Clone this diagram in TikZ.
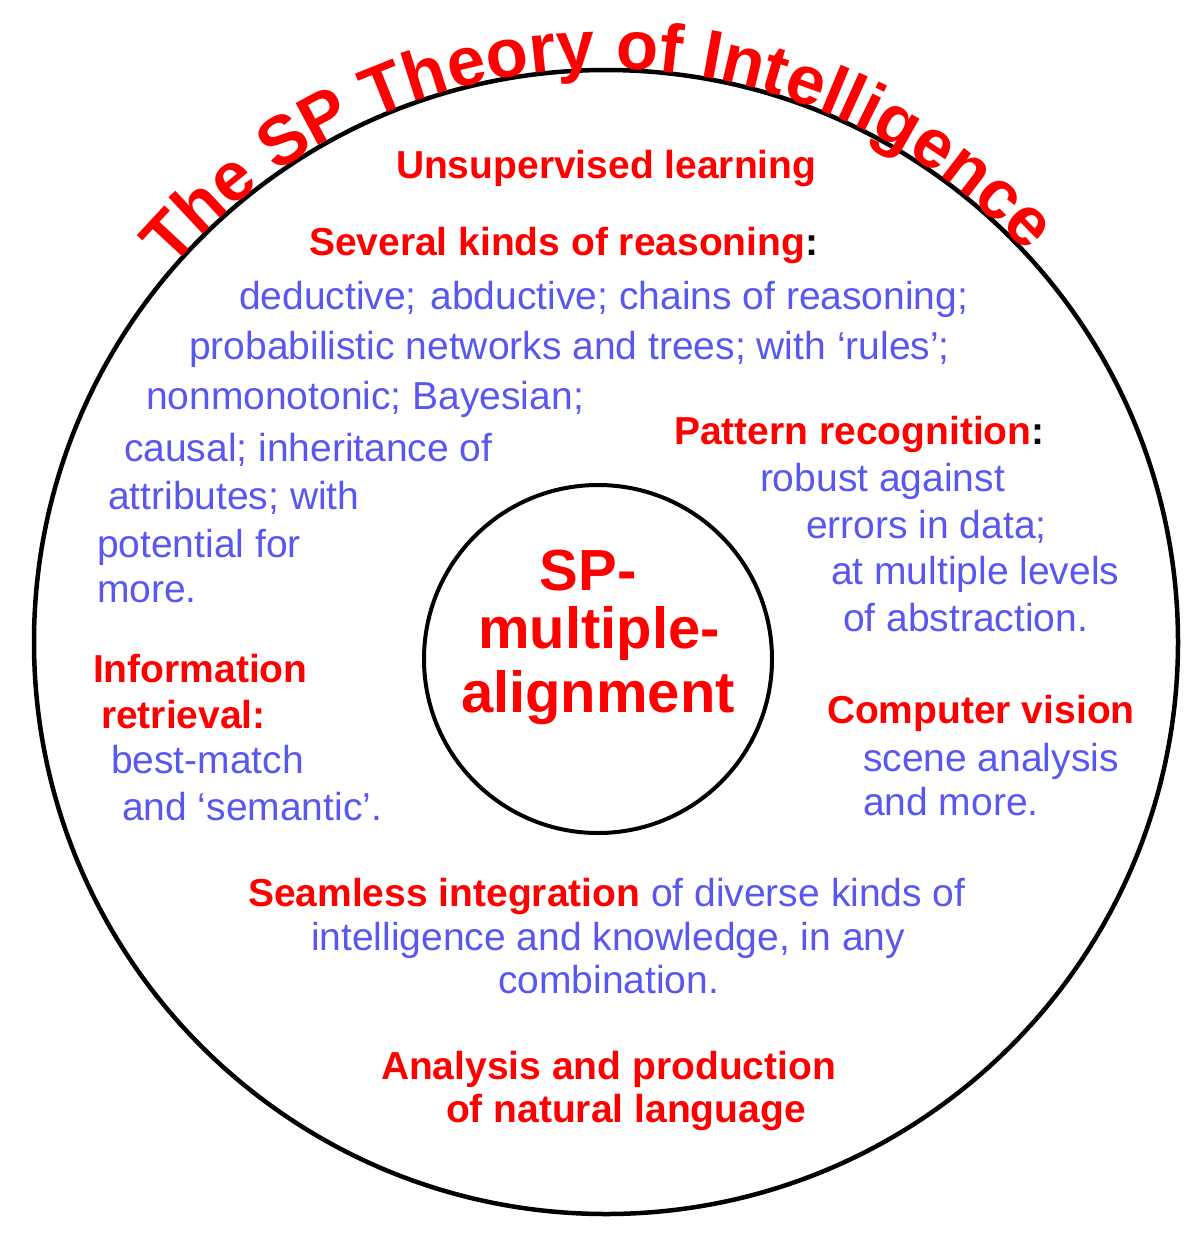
\documentclass[tikz,border=0pt]{standalone}
\usepackage{fontspec}
\setmainfont{Liberation Sans}
\usetikzlibrary{decorations.text}
\definecolor{bluetext}{RGB}{88,88,240}
\definecolor{redtext}{RGB}{255,0,0}
\begin{document}
\begin{tikzpicture}[x=1pt,y=-1pt,
  lbl/.style={anchor=base west, inner sep=0pt, outer sep=0pt},
  head/.style={lbl, text=redtext, font=\fontsize{39}{47}\selectfont\bfseries},
  body/.style={lbl, text=bluetext, font=\fontsize{39}{47}\selectfont},
  coretxt/.style={anchor=base, inner sep=0pt, outer sep=0pt, text=redtext, font=\fontsize{58}{62}\selectfont\bfseries},
  ring/.style={circle, draw=black, inner sep=0pt, outer sep=0pt}]
\fill[white] (0,0) rectangle (1200,1251);
\path[use as bounding box] (0,0) rectangle (1200,1251);
% circles
\node[ring, line width=4.5pt, minimum size=1144pt] (outer) at (606,642) {};
\node[ring, line width=4pt, minimum size=348pt] (core) at (598,659) {};
% title along arc
\path[decorate, decoration={text along path, text align=center, text color=redtext,
  text={|\fontsize{69}{69}\selectfont\bfseries|The SP Theory of Intelligence}}]
  ([shift={(606,642)}]178:573) arc[start angle=178, end angle=360, radius=573];
% centre
\node[coretxt] (core1) at (588,590) {SP-};
\node[coretxt] (core2) at (599,648) {multiple-};
\node[coretxt] (core3) at (598,712) {alignment};
% top
\node[head] (u1) at (396,178) {Unsupervised learning};
\node[head] (r1) at (309,255) {Several kinds of reasoning\textcolor{black}{:}};
\node[body] (b1) at (239,309) {deductive;\hspace{3pt} abductive; chains of reasoning;};
\node[body] (b2) at (189,359) {probabilistic networks and trees; with ‘rules’;};
\node[body] (b3) at (146,409) {nonmonotonic; Bayesian;};
\node[body] (b4) at (124,461) {causal; inheritance of};
\node[body] (b5) at (108,509) {attributes; with};
\node[body] (b6) at (97,557) {potential for};
\node[body] (b7) at (97,602) {more.};
% pattern recognition
\node[head] (p0) at (674,444) {Pattern recognition\textcolor{black}{:}};
\node[body] (p1) at (760,491) {robust against};
\node[body] (p2) at (806,538) {errors in data;};
\node[body] (p3) at (831,584) {at multiple levels};
\node[body] (p4) at (843,631) {of abstraction.};
% computer vision
\node[head] (c0) at (827,723) {Computer vision};
\node[body] (c1) at (863,771) {scene analysis};
\node[body] (c2) at (863,815) {and more.};
% information retrieval
\node[head] (i0) at (93,682) {Information};
\node[head] (i1) at (101,728) {retrieval:};
\node[body] (i2) at (111,773) {best-match};
\node[body] (i3) at (122,820) {and ‘semantic’.};
% seamless integration
\node[body] (s0) at (248,906) {\textcolor{redtext}{\bfseries Seamless integration} of diverse kinds of};
\node[body] (s1) at (311,950) {intelligence and knowledge, in any};
\node[body] (s2) at (498,993) {combination.};
% natural language
\node[head] (a0) at (381,1079) {Analysis and production};
\node[head] (a1) at (446,1122) {of natural language};
\end{tikzpicture}
\end{document}
